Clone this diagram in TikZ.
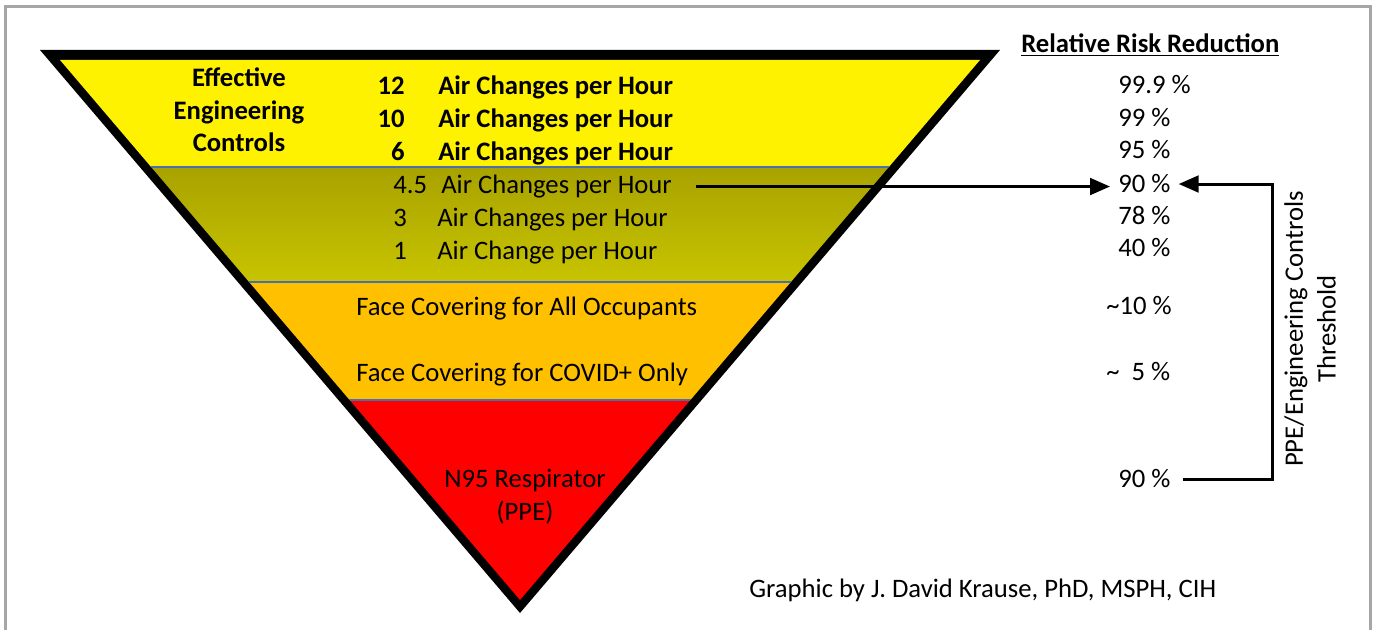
\documentclass[tikz,border=0pt]{standalone}
\usepackage{fontspec}
\setmainfont{Carlito}
\usetikzlibrary{arrows.meta}

\definecolor{oliveTop}{HTML}{A8A200}
\definecolor{oliveBot}{HTML}{C8C400}
\definecolor{maskOrange}{HTML}{FFC000}
\definecolor{sepBlue}{HTML}{4A6EB0}
\definecolor{frameGray}{HTML}{A6A6A6}

\tikzset{
  lbl/.style={inner sep=0pt, font=\fontsize{20}{24.5}\selectfont},
  blbl/.style={inner sep=0pt, font=\fontsize{20}{24.5}\selectfont\bfseries},
  pct/.style={lbl, anchor=base west},
  arr/.style={line width=2.25pt, shorten >=6pt, -{Triangle[length=15pt,width=12.5pt]}},
  sep/.style={sepBlue, line width=1.5pt}
}

\begin{document}
\begin{tikzpicture}[x=0.75pt, y=-0.75pt]
    \useasboundingbox (0,0) rectangle (1374,630);

    % draw frame
    \draw[frameGray, line width=2.25pt] (5,650) |- (1370,7) -- (1370,650);

    % draw triangle and bands
    \fill[black] (40,50) -- (1000,50) -- (520,613) -- cycle;
    \begin{scope}
      \clip (60,60) -- (980,60) -- (520,600) -- cycle;
      \fill[yellow] (0,55) rectangle (1000,167);
      \shade[top color=oliveTop, bottom color=oliveBot] (0,167) rectangle (1000,282);
      \fill[maskOrange] (0,282) rectangle (1000,400);
      \fill[red] (0,400) rectangle (1000,620);
      \foreach \y in {167,282,400}
        \draw[sep] (0,\y) -- (1000,\y);
    \end{scope}

    % draw band texts
    \node[blbl, align=center] (eec) at (239,110) {Effective\\Engineering\\Controls};
    \foreach \i/\n/\y in {1/12/95,2/10/128,3/6/160.5}{
      \node[blbl, anchor=base east] (n\i) at (405,\y) {\n};
      \node[blbl, anchor=base west] (t\i) at (438,\y) {Air Changes per Hour};
    }
    \node[lbl, anchor=base west] (n4) at (393,193.5) {4.5};
    \node[lbl, anchor=base west] (t4) at (441,193.5) {Air Changes per Hour};
    \node[lbl, anchor=base west] (n5) at (393,227) {3};
    \node[lbl, anchor=base west] (t5) at (437,227) {Air Changes per Hour};
    \node[lbl, anchor=base west] (n6) at (393,260) {1};
    \node[lbl, anchor=base west] (t6) at (437,260) {Air Change per Hour};
    \node[lbl, anchor=base west] (fc1) at (356,316) {Face Covering for All Occupants};
    \node[lbl, anchor=base west] (fc2) at (356,382) {Face Covering for COVID+ Only};
    \node[lbl, align=center] (n95) at (525,497) {N95 Respirator\\(PPE)};

    % draw risk reduction column
    \node[blbl, anchor=base west] (head) at (1021,53) {\underline{Relative Risk Reduction}};
    \foreach \i/\p/\y in {1/99.9/94,2/99/127,3/95/159,4/90/193,5/78/225,6/40/257}
      \node[pct] (p\i) at (1118,\y) {\p\ \%};
    \node[pct] (p7) at (1106,315) {\textasciitilde10 \%};
    \node[pct] (p8) at (1106,381) {\textasciitilde\hspace{0.45em}5 \%};
    \node[pct] (p9) at (1118,488) {90 \%};

    % draw arrows
    \coordinate (thr) at (1272,330);
    \draw[arr, shorten <=18pt] (t4.east) -- (t4.east -| p4.west);
    \draw[arr, shorten <=9pt] (p9.east) -- (p9.east -| thr) |- (p4.east);
    \node[lbl, rotate=90, align=center] (thrlbl) at (1310,329) {PPE/Engineering Controls\\Threshold};

    % draw credit
    \node[lbl, anchor=base west] (credit) at (749,597) {Graphic by J. David Krause, PhD, MSPH, CIH};
\end{tikzpicture}
\end{document}
